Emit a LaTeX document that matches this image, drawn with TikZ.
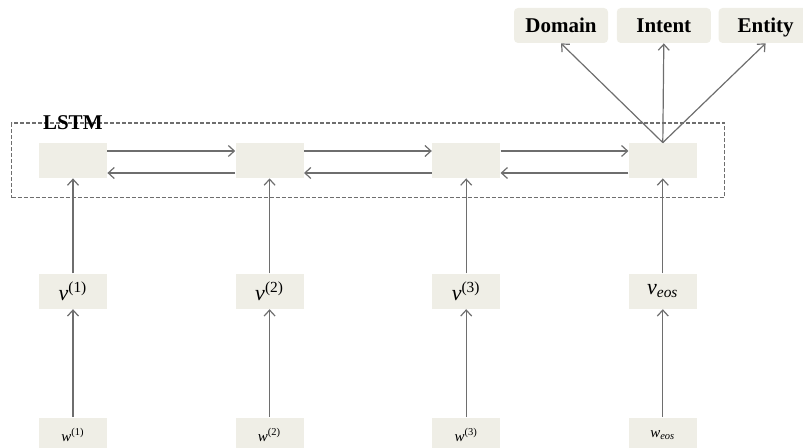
\documentclass[tikz,border=0pt]{standalone}
\usepackage{fontspec}
\setmainfont{Liberation Serif}
\usetikzlibrary{arrows.meta,positioning,fit}
\definecolor{cellfill}{HTML}{EFEEE6}
\definecolor{linegray}{HTML}{6E6E6E}

\begin{document}
\begin{tikzpicture}[
  x=0.5pt, y=-0.5pt,
  cell/.style={fill=cellfill, minimum width=34pt, minimum height=17.5pt,
    inner sep=0pt, font=\fontsize{11}{13}\selectfont},
  incell/.style={cell, font=\fontsize{7.5}{9}\selectfont},
  outbox/.style={fill=cellfill, rounded corners=2pt, minimum width=47pt,
    minimum height=17.5pt, inner sep=0pt, text height=1.5ex, text depth=0pt,
    font=\fontsize{10.5}{12}\selectfont\bfseries},
  arr/.style={-{Straight Barb[length=3pt,width=5.5pt]}, draw=linegray, line width=0.6pt},
  frame/.style={draw=linegray, dash pattern=on 2pt off 1pt, line width=0.6pt}
]
\useasboundingbox (0,0) rectangle (803,448);

% LSTM cells
\node[cell] (h1) at (73,160.5) {};
\node[cell, right=63.9pt of h1] (h2) {};
\node[cell, right=63.9pt of h2] (h3) {};
\node[cell, right=63.9pt of h3] (h4) {};

% embeddings
\node[cell, below=47.5pt of h1] (v1) {\textit{v}\textsuperscript{(1)}};
\node[cell, below=47.5pt of h2] (v2) {\textit{v}\textsuperscript{(2)}};
\node[cell, below=47.5pt of h3] (v3) {\textit{v}\textsuperscript{(3)}};
\node[cell, below=47.5pt of h4] (veos) {\textit{v}\textsubscript{\textit{eos}}};

% words
\node[incell, below=54pt of v1] (w1) {\textit{w}\textsuperscript{(1)}};
\node[incell, below=54pt of v2] (w2) {\textit{w}\textsuperscript{(2)}};
\node[incell, below=54pt of v3] (w3) {\textit{w}\textsuperscript{(3)}};
\node[incell, below=54pt of veos] (weos) {\textit{w}\textsubscript{\textit{eos}}};

% outputs
\node[outbox] (dom) at (561,25.5) {Domain};
\node[outbox, right=4pt of dom] (int) {Intent};
\node[outbox, right=3.5pt of int] (ent) {Entity};

% LSTM frame
\node[frame, fit=(h1)(h4), inner xsep=13.5pt, inner ysep=9.75pt] (lstm) {};
\node[font=\fontsize{10.5}{12}\selectfont\bfseries, anchor=west]
  (lstmlbl) at ([xshift=12.5pt]lstm.north west) {LSTM};

% recurrent links
\draw[arr] ([yshift=4.75pt]h1.east) -- ([yshift=4.75pt]h2.west);
\draw[arr] ([yshift=4.75pt]h2.east) -- ([yshift=4.75pt]h3.west);
\draw[arr] ([yshift=4.75pt]h3.east) -- ([yshift=4.75pt]h4.west);
\draw[arr] ([yshift=-6.25pt]h2.west) -- ([yshift=-6.25pt]h1.east);
\draw[arr] ([yshift=-6.25pt]h3.west) -- ([yshift=-6.25pt]h2.east);
\draw[arr] ([yshift=-6.25pt]h4.west) -- ([yshift=-6.25pt]h3.east);

% inputs
\draw[arr] (w1) -- (v1);
\draw[arr] (w2) -- (v2);
\draw[arr] (w3) -- (v3);
\draw[arr] (weos) -- (veos);
\draw[arr] (v1) -- (h1);
\draw[arr] (v2) -- (h2);
\draw[arr] (v3) -- (h3);
\draw[arr] (veos) -- (h4);

% outputs
\draw[arr] (h4.north) -- (dom.south);
\draw[arr] (h4.north) -- (int.south);
\draw[arr] (h4.north) -- (ent.south);
\end{tikzpicture}
\end{document}
